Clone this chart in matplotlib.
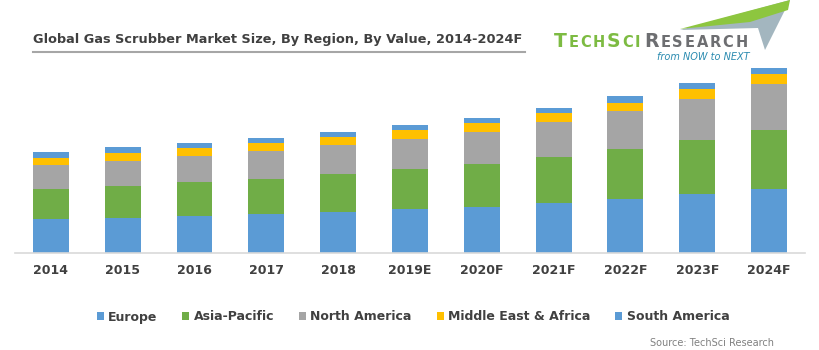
import matplotlib
matplotlib.use("Agg")
import matplotlib.pyplot as plt
from matplotlib.patches import Patch, Polygon
from matplotlib.lines import Line2D
import numpy as np

# 数据（无纵轴刻度，按图中像素高度估计）
years = ["2014", "2015", "2016", "2017", "2018", "2019E", "2020F", "2021F", "2022F", "2023F", "2024F"]
europe = [34, 35, 37, 39, 41, 44, 46, 50, 54, 59, 64]
asia_pacific = [30, 32, 34, 35, 38, 40, 43, 46, 50, 54, 59]
north_america = [24, 25, 26, 28, 29, 30, 32, 35, 38, 41, 46]
mea = [7, 8, 8, 8, 8, 9, 9, 9, 8, 10, 10]
south_america = [6, 6, 5, 5, 5, 5, 5, 5, 7, 6, 6]

series = ["Europe", "Asia-Pacific", "North America", "Middle East & Africa", "South America"]
colors = ["#5B9BD5", "#70AD47", "#A5A5A5", "#FFC000", "#5B9BD5"]

W, H = 820, 350
fig = plt.figure(figsize=(W / 100, H / 100), dpi=100)
ax = fig.add_axes([15 / W, 97 / H, 790 / W, 193 / H])

x = np.arange(len(years))
bottom = np.zeros(len(years))
for vals, col in zip([europe, asia_pacific, north_america, mea, south_america], colors):
    ax.bar(x, vals, width=0.5, bottom=bottom, color=col, edgecolor="none")
    bottom += np.array(vals)

ax.set_xlim(-0.5, len(years) - 0.5)
ax.set_ylim(0, 193)
ax.set_yticks([])
ax.set_xticks(x)
ax.set_xticklabels(years, fontsize=9, fontweight="bold", color="#404040")
ax.tick_params(axis="x", length=0, pad=8)
for s in ["top", "right", "left"]:
    ax.spines[s].set_visible(False)
ax.spines["bottom"].set_color("#d9d9d9")
ax.spines["bottom"].set_linewidth(1.2)

# 标题和下划线
fig.text(33 / W, 1 - 40 / H, "Global Gas Scrubber Market Size, By Region, By Value, 2014-2024F",
         fontsize=9.3, fontweight="bold", color="#404040", va="center", ha="left")
fig.add_artist(Line2D([33 / W, 525 / W], [1 - 52 / H, 1 - 52 / H], color="#a6a6a6", lw=1.5))

# 图例
handles = [Patch(facecolor=c, edgecolor="none") for c in colors]
leg = fig.legend(handles, series, loc="center", bbox_to_anchor=(413 / W, 1 - 317 / H), ncol=5,
                 frameon=False, handlelength=0.55, handleheight=0.55, handletextpad=0.35,
                 columnspacing=2.0, prop={"size": 9, "weight": "bold"})
for t in leg.get_texts():
    t.set_color("#404040")


def fpt(px, py):
    return [px / W, 1 - py / H]


# logo 三角形
fig.add_artist(Polygon([fpt(680, 30), fpt(790, 0), fpt(765, 50), fpt(758, 28)],
                       closed=True, facecolor="#a3b6bf", edgecolor="none"))
fig.add_artist(Polygon([fpt(680, 29), fpt(790, 0), fpt(788, 10), fpt(750, 22)],
                       closed=True, facecolor="#8dc63f", edgecolor="none"))

# logo 文字（小型大写字母）
renderer = fig.canvas.get_renderer()


def small_caps(x0, y0, word, caps, color):
    xp = x0
    for ch, big in zip(word, caps):
        t = fig.text(xp / W, 1 - y0 / H, ch, fontsize=13.5 if big else 10.5, color=color,
                     fontweight="bold", va="baseline", ha="left")
        xp += t.get_window_extent(renderer).width + 1.8
    return xp


end = small_caps(554, 47, "TECHSCI", [1, 0, 0, 0, 1, 0, 0], "#7dbb42")
small_caps(end + 2, 47, "RESEARCH", [1, 0, 0, 0, 0, 0, 0, 0], "#6d6e71")
fig.text(750 / W, 1 - 57 / H, "from NOW to NEXT", fontsize=7, style="italic", color="#2a8bb0",
         va="center", ha="right")

fig.text(712 / W, 1 - 343 / H, "Source: TechSci Research", fontsize=7, color="#808080",
         va="center", ha="center")

fig.savefig("out.png", dpi=100)
